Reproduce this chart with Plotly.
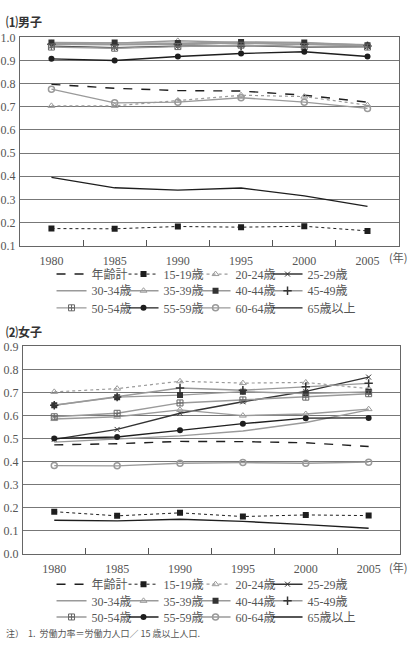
import plotly.graph_objects as go

years = ["1980", "1985", "1990", "1995", "2000", "2005"]
series_names = ["年齢計", "15-19歳", "20-24歳", "25-29歳", "30-34歳", "35-39歳",
                "40-44歳", "45-49歳", "50-54歳", "55-59歳", "60-64歳", "65歳以上"]

# Male participation rates
m_total = [0.797, 0.780, 0.770, 0.768, 0.750, 0.720]
m_15 = [0.174, 0.173, 0.183, 0.180, 0.184, 0.164]
m_20 = [0.704, 0.704, 0.727, 0.750, 0.744, 0.707]
m_25 = [0.962, 0.955, 0.962, 0.965, 0.958, 0.960]
m_30 = [0.975, 0.970, 0.972, 0.975, 0.970, 0.965]
m_35 = [0.976, 0.975, 0.985, 0.978, 0.975, 0.968]
m_40 = [0.978, 0.978, 0.975, 0.980, 0.978, 0.966]
m_45 = [0.970, 0.968, 0.970, 0.962, 0.970, 0.963]
m_50 = [0.958, 0.953, 0.960, 0.966, 0.960, 0.958]
m_55 = [0.907, 0.900, 0.917, 0.930, 0.938, 0.917]
m_60 = [0.776, 0.717, 0.720, 0.739, 0.720, 0.693]
m_65 = [0.395, 0.350, 0.340, 0.349, 0.315, 0.270]

# Female participation rates
f_total = [0.473, 0.478, 0.488, 0.487, 0.482, 0.466]
f_15 = [0.183, 0.165, 0.178, 0.162, 0.169, 0.166]
f_20 = [0.703, 0.717, 0.749, 0.741, 0.744, 0.717]
f_25 = [0.497, 0.540, 0.610, 0.660, 0.705, 0.767]
f_30 = [0.485, 0.500, 0.512, 0.533, 0.570, 0.625]
f_35 = [0.585, 0.595, 0.625, 0.600, 0.607, 0.628]
f_40 = [0.645, 0.680, 0.689, 0.704, 0.696, 0.703]
f_45 = [0.645, 0.681, 0.720, 0.710, 0.725, 0.740]
f_50 = [0.595, 0.610, 0.655, 0.668, 0.680, 0.695]
f_55 = [0.501, 0.507, 0.536, 0.565, 0.589, 0.590]
f_60 = [0.383, 0.382, 0.393, 0.396, 0.393, 0.398]
f_65 = [0.146, 0.143, 0.150, 0.141, 0.127, 0.111]

male = [m_total, m_15, m_20, m_25, m_30, m_35, m_40, m_45, m_50, m_55, m_60, m_65]
female = [f_total, f_15, f_20, f_25, f_30, f_35, f_40, f_45, f_50, f_55, f_60, f_65]

BLK = "#1e1e1e"
GRY = "#9a9a9a"
TXT = "#555555"
FONT = "Liberation Serif"
JFONT = "Noto Sans CJK JP"

styles = [
    dict(line=dict(color=BLK, width=1.4, dash="dash"), mode="lines", marker=dict()),
    dict(line=dict(color=BLK, width=1, dash="dot"), mode="lines+markers",
         marker=dict(symbol="square", size=6, color=BLK)),
    dict(line=dict(color=GRY, width=1.2, dash="dot"), mode="lines+markers",
         marker=dict(symbol="triangle-up-open", size=6, color=GRY)),
    dict(line=dict(color="#333333", width=1.4), mode="lines+markers",
         marker=dict(symbol="x-thin-open", size=5, color="#333333", line=dict(width=1, color="#333333"))),
    dict(line=dict(color=GRY, width=1.4), mode="lines", marker=dict()),
    dict(line=dict(color=GRY, width=1.4), mode="lines+markers",
         marker=dict(symbol="triangle-up-open", size=6, color=GRY)),
    dict(line=dict(color=GRY, width=1.4), mode="lines+markers",
         marker=dict(symbol="square", size=6, color="#333333")),
    dict(line=dict(color=GRY, width=1.4), mode="lines+markers",
         marker=dict(symbol="cross-thin-open", size=6, color="#333333", line=dict(width=1.5, color="#333333"))),
    dict(line=dict(color=GRY, width=1.4), mode="lines+markers",
         marker=dict(symbol="square-cross-open", size=6, color="#666666")),
    dict(line=dict(color=BLK, width=1.4), mode="lines+markers",
         marker=dict(symbol="circle", size=6, color=BLK)),
    dict(line=dict(color=GRY, width=1.4), mode="lines+markers",
         marker=dict(symbol="circle-open", size=6, color=GRY, line=dict(width=1.5))),
    dict(line=dict(color=BLK, width=1.4), mode="lines", marker=dict()),
]

fig = go.Figure()

legend_rows = {"male": ["legend", "legend2", "legend3"], "female": ["legend4", "legend5", "legend6"]}

for panel, data, xa, ya in [("male", male, "x", "y"), ("female", female, "x2", "y2")]:
    for i, (name, vals, st) in enumerate(zip(series_names, data, styles)):
        kw = {}
        if i % 4 == 3:
            kw["legendwidth"] = 70
        fig.add_trace(go.Scatter(
            x=years, y=vals, name=name, xaxis=xa, yaxis=ya,
            mode=st["mode"], line=st["line"], marker=st["marker"],
            legend=legend_rows[panel][i // 4], **kw,
        ))

axis_common = dict(
    showgrid=False, showline=True, linecolor="#666666", linewidth=1, mirror=True,
    tickfont=dict(family=FONT, size=12, color=TXT),
)
xcommon = dict(axis_common, type="category", range=[-0.5, 5.5], ticks="inside",
               tickson="boundaries", ticklen=6, tickcolor="#555555", fixedrange=True,
               ticklabelstandoff=4)
ycommon = dict(axis_common, dtick=0.1, tickformat=".1f", showgrid=True,
               gridcolor="#777777", gridwidth=1, ticks="", zeroline=False,
               ticklabelstandoff=1)

H = 645.0
W = 409.0
fig.update_layout(
    width=409, height=645, margin=dict(l=0, r=0, t=0, b=0),
    paper_bgcolor="white", plot_bgcolor="white",
    font=dict(family=FONT, color=TXT),
    xaxis=dict(xcommon, domain=[16 / W, 399 / W], anchor="y"),
    yaxis=dict(ycommon, domain=[1 - 244 / H, 1 - 31 / H], range=[0.1, 1.0], anchor="x"),
    xaxis2=dict(xcommon, domain=[19 / W, 400 / W], anchor="y2"),
    yaxis2=dict(ycommon, domain=[1 - 559 / H, 1 - 347 / H], range=[0.0, 0.9], anchor="x2"),
)

leg_y = {"legend": 273, "legend2": 290, "legend3": 307.5,
         "legend4": 590, "legend5": 607, "legend6": 623.5}
for key, py in leg_y.items():
    fig.update_layout({key: dict(
        orientation="h", x=48 / W, xanchor="left", y=1 - py / H, yanchor="middle",
        entrywidth=27, entrywidthmode="pixels", bgcolor="rgba(0,0,0,0)",
        font=dict(family=FONT + ", " + JFONT, size=12, color=TXT), itemwidth=30,
        tracegroupgap=0,
    )})

annotations = [
    dict(text="<b>⑴男子</b>", x=0, y=1 - 15 / H, xanchor="left", yanchor="middle",
         font=dict(size=12, color="#333333", family=JFONT)),
    dict(text="<b>⑵女子</b>", x=0, y=1 - 332 / H, xanchor="left", yanchor="middle",
         font=dict(size=12, color="#333333", family=JFONT)),
    dict(text="(年)", x=1.0, y=1 - 256 / H, xanchor="right", yanchor="middle",
         font=dict(size=11, color=TXT, family=JFONT)),
    dict(text="(年)", x=1.0, y=1 - 572 / H, xanchor="right", yanchor="middle",
         font=dict(size=11, color=TXT, family=JFONT)),
    dict(text="注）  1.  労働力率＝労働力人口／ 15 歳以上人口.", x=0, y=1 - 640 / H,
         xanchor="left", yanchor="middle",
         font=dict(size=9, color=TXT, family=JFONT)),
]
for a in annotations:
    a.update(xref="paper", yref="paper", showarrow=False)
fig.update_layout(annotations=annotations)

fig.write_html("out.html")
